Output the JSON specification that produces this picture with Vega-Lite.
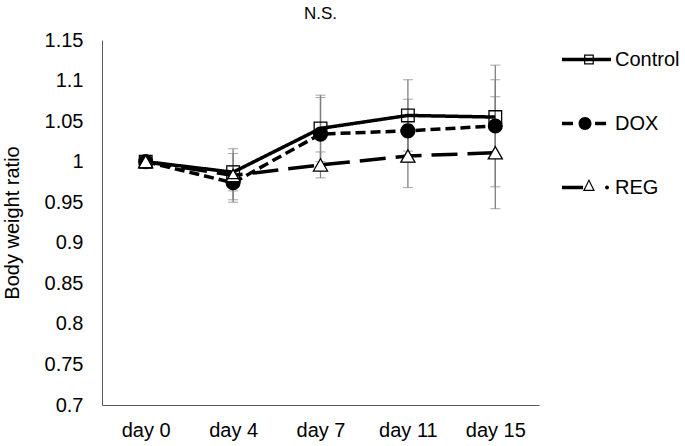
{
  "$schema": "https://vega.github.io/schema/vega-lite/v6.json",
  "width": 437,
  "height": 365,
  "autosize": "none",
  "padding": {"left": 102, "top": 40, "right": 146, "bottom": 41},
  "background": "white",
  "title": {"text": "N.S.", "fontSize": 17, "font": "Liberation Sans", "fontWeight": "normal", "color": "black", "anchor": "middle", "offset": 7},
  "config": {
    "view": {"stroke": null},
    "font": "Liberation Sans"
  },
  "data": {
    "values": [
      {"group": "DOX", "day": "day 0", "value": 1.0, "err": 0},
      {"group": "DOX", "day": "day 4", "value": 0.974, "err": 0.021},
      {"group": "DOX", "day": "day 7", "value": 1.034, "err": 0.045},
      {"group": "DOX", "day": "day 11", "value": 1.038, "err": 0.039},
      {"group": "DOX", "day": "day 15", "value": 1.044, "err": 0.075},
      {"group": "REG", "day": "day 0", "value": 1.0, "err": 0},
      {"group": "REG", "day": "day 4", "value": 0.983, "err": 0.033},
      {"group": "REG", "day": "day 7", "value": 0.996, "err": 0.016},
      {"group": "REG", "day": "day 11", "value": 1.007, "err": 0.039},
      {"group": "REG", "day": "day 15", "value": 1.011, "err": 0.069},
      {"group": "Control", "day": "day 0", "value": 1.0, "err": 0},
      {"group": "Control", "day": "day 4", "value": 0.987, "err": 0.023},
      {"group": "Control", "day": "day 7", "value": 1.041, "err": 0.041},
      {"group": "Control", "day": "day 11", "value": 1.057, "err": 0.044},
      {"group": "Control", "day": "day 15", "value": 1.055, "err": 0.046}
    ]
  },
  "encoding": {
    "x": {
      "field": "day", "type": "ordinal",
      "sort": ["day 0", "day 4", "day 7", "day 11", "day 15"],
      "scale": {"type": "point", "padding": 0.5},
      "axis": {"title": null, "labelAngle": 0, "ticks": false, "grid": false, "domainColor": "#595959", "domainWidth": 1, "labelFontSize": 20, "labelColor": "black", "labelPadding": 15, "labelFont": "Liberation Sans"}
    }
  },
  "layer": [
    {
      "mark": {"type": "errorbar", "ticks": {"size": 10, "color": "#7f7f7f", "strokeWidth": 1.3}, "rule": {"color": "#7f7f7f", "strokeWidth": 1.3}},
      "encoding": {
        "y": {"field": "value", "type": "quantitative", "title": "Body weight ratio"},
        "yError": {"field": "err"},
        "detail": {"field": "group"}
      }
    },
    {
      "mark": {"type": "line", "color": "black", "strokeWidth": 3.5},
      "encoding": {
        "y": {
          "field": "value", "type": "quantitative", "title": "Body weight ratio",
          "scale": {"domain": [0.7, 1.15], "nice": false, "zero": false},
          "axis": {"title": "Body weight ratio", "values": [0.7, 0.75, 0.8, 0.85, 0.9, 0.95, 1, 1.05, 1.1, 1.15], "format": ".2~f", "ticks": false, "grid": false, "domainColor": "#595959", "domainWidth": 1, "labelFontSize": 20, "labelColor": "black", "labelPadding": 19, "titleFontSize": 20, "titleFontWeight": "normal", "titleColor": "black", "titlePadding": 22, "labelFont": "Liberation Sans", "titleFont": "Liberation Sans"}
        },
        "detail": {"field": "group"},
        "strokeDash": {
          "condition": [
            {"test": "datum.group === 'DOX'", "value": [10, 5]},
            {"test": "datum.group === 'REG'", "value": [26, 10]}
          ],
          "value": [1, 0]
        }
      }
    },
    {
      "mark": {"type": "point", "filled": false, "stroke": "black", "strokeWidth": 1.3, "opacity": 1},
      "encoding": {
        "y": {"field": "value", "type": "quantitative", "title": "Body weight ratio"},
        "shape": {
          "field": "group", "type": "nominal",
          "scale": {"domain": ["Control", "DOX", "REG"], "range": ["square", "circle", "triangle-up"]},
          "legend": null
        },
        "fill": {
          "condition": [
            {"test": "datum.group === 'Control'", "value": "transparent"},
            {"test": "datum.group === 'DOX'", "value": "black"}
          ],
          "value": "white"
        },
        "size": {
          "condition": [
            {"test": "datum.group === 'Control'", "value": 160},
            {"test": "datum.group === 'DOX'", "value": 190}
          ],
          "value": 200
        }
      }
    },
    {
      "mark": {"type": "point", "filled": true, "color": "black", "opacity": 0},
      "encoding": {
        "y": {"field": "value", "type": "quantitative", "title": "Body weight ratio"},
        "shape": {
          "field": "group", "type": "nominal",
          "scale": {
            "domain": ["Control", "DOX", "REG"],
            "range": [
              "M-1,-0.07H1V0.07H-1Z M-0.1,-0.2H0.3V0.2H-0.1Z M-0.05,-0.15V0.15H0.25V-0.15Z",
              "M-1,-0.07H-0.55V0.07H-1Z M-0.325,0A0.265,0.265 0 1,1 0.205,0A0.265,0.265 0 1,1 -0.325,0Z M0.35,-0.07H0.8V0.07H0.35Z",
              "M-1,-0.07H-0.14V0.07H-1Z M-0.145,0.14L0.1,-0.35L0.345,0.14Z M0.265,0.087L0.1,-0.24L-0.065,0.087Z M0.76,0A0.08,0.08 0 1,1 0.92,0A0.08,0.08 0 1,1 0.76,0Z"
            ]
          },
          "legend": {
            "title": null,
            "orient": "none",
            "legendX": 460,
            "legendY": -5,
            "padding": 0,
            "symbolSize": 2401,
            "symbolOpacity": 1,
            "symbolFillColor": "black",
            "symbolStrokeColor": "transparent",
            "symbolStrokeWidth": 0,
            "rowPadding": 29,
            "labelFontSize": 20,
            "labelFont": "Liberation Sans",
            "labelColor": "black",
            "labelOffset": 4
          }
        }
      }
    }
  ],
  "resolve": {"scale": {"shape": "independent"}, "legend": {"shape": "independent"}}
}
